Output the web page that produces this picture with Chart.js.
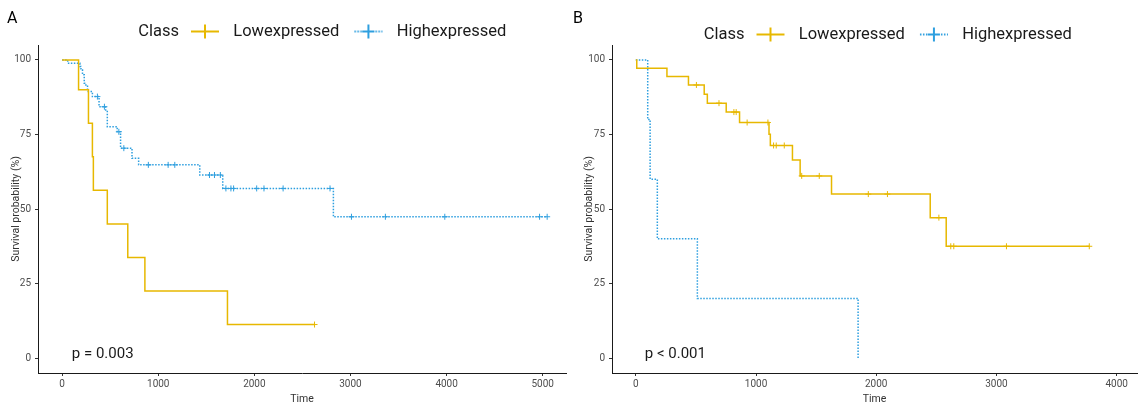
<!DOCTYPE html>
<html>
<head>
<meta charset="utf-8">
<script src="https://cdn.jsdelivr.net/npm/chart.js@4.4.1/dist/chart.umd.min.js"></script>
<style>
  body { margin: 0; background: #fff; width: 1142px; height: 406px; position: relative; overflow: hidden; font-family: Roboto, sans-serif; }
  .panel { position: absolute; top: 0; width: 571px; height: 406px; }
  .tag { position: absolute; top: 9px; font-size: 16px; color: #000; line-height: 18px; }
</style>
</head>
<body>
<div class="panel" style="left:0"><canvas id="chartA" width="571" height="406"></canvas></div>
<div class="panel" style="left:571px"><canvas id="chartB" width="571" height="406"></canvas></div>
<div class="tag" style="left:7px">A</div>
<div class="tag" style="left:573px">B</div>
<script>
const lowColor = "#E7B800";
const highColor = "#2E9FDF";

// panel A
const timeLowA = [0, 171, 274, 315, 325, 470, 683, 861, 1720, 2626];
const survLowA = [100, 90, 78.75, 67.5, 56.25, 45, 33.75, 22.5, 11.25, 11.25];
const censorLowA = [2626];
const timeHighA = [0, 58, 185, 196, 212, 230, 247, 264, 315, 384, 453, 470, 573, 608, 727, 796, 1432, 1671, 2822, 5046];
const survHighA = [100, 98.9, 97.8, 96.6, 95, 92.2, 91.6, 89.4, 87.7, 84.3, 82.7, 77.6, 75.9, 70.4, 67, 64.8, 61.4, 56.9, 47.4, 47.4];
const censorHighA = [367, 440, 590, 642, 897, 1103, 1172, 1533, 1585, 1646, 1704, 1756, 1784, 2024, 2100, 2299, 2787, 3010, 3363, 3981, 4967, 5046];

// panel B
const timeLowB = [0, 8, 259, 438, 569, 595, 752, 863, 1108, 1119, 1303, 1367, 1628, 2449, 2582, 3772];
const survLowB = [100, 97.2, 94.4, 91.6, 88.5, 85.5, 82.5, 79, 75.1, 71.3, 66.4, 61.1, 55, 47.1, 37.5, 37.5];
const censorLowB = [504, 692, 816, 835, 926, 1099, 1146, 1168, 1235, 1380, 1526, 1934, 2093, 2521, 2620, 2645, 3083, 3772];
const timeHighB = [0, 99, 119, 179, 512, 1849];
const survHighB = [100, 80, 60, 40, 20, 0];
const censorHighB = [];

const timeTicksA = [0, 1000, 2000, 3000, 4000, 5000];
const timeTicksB = [0, 1000, 2000, 3000, 4000];
const survTicks = [0, 25, 50, 75, 100];
const seriesNames = ["Lowexpressed", "Highexpressed"];

const legendFont = 16.5;
const legendPad = 13;

function survAt(times, surv, t) {
    let v = surv[0];
    for (let i = 0; i < times.length; i++) if (times[i] <= t) v = surv[i];
    return v;
}

function legendIcon(color, dash) {
    const c = document.createElement("canvas");
    c.width = 36;
    c.height = 18;
    const ctx = c.getContext("2d");
    ctx.strokeStyle = color;
    ctx.lineWidth = 2;
    ctx.setLineDash(dash);
    ctx.beginPath();
    ctx.moveTo(2, 9);
    ctx.lineTo(30, 9);
    ctx.stroke();
    ctx.setLineDash([]);
    ctx.beginPath();
    ctx.moveTo(16, 2);
    ctx.lineTo(16, 16);
    ctx.moveTo(10, 9);
    ctx.lineTo(22, 9);
    ctx.stroke();
    return c;
}
const icons = [legendIcon(lowColor, []), legendIcon(highColor, [1.5, 1.5])];

// moves the legend where ggplot puts it, writes "Class" and the p value
const panelDecor = {
    id: "panelDecor",
    afterLayout(chart, args, opts) {
        const lg = chart.legend;
        const w = lg.width;
        lg.left = opts.legendX - legendPad;
        lg.right = lg.left + w;
        lg.top = opts.legendY - legendPad - legendFont / 2;
        lg.bottom = lg.top + legendFont + 2 * legendPad + 4;
        lg.height = lg.bottom - lg.top;
    },
    afterDraw(chart, args, opts) {
        const ctx = chart.ctx;
        ctx.save();
        ctx.fillStyle = "#1a1a1a";
        ctx.textBaseline = "middle";
        ctx.font = legendFont + "px Roboto";
        ctx.textAlign = "right";
        ctx.fillText("Class", opts.legendX - 10, opts.legendY);
        ctx.font = "15px Roboto";
        ctx.textAlign = "left";
        ctx.fillText(opts.pval, chart.scales.x.getPixelForValue(opts.pvalX), chart.scales.y.getPixelForValue(opts.pvalY));
        ctx.restore();
    }
};

function points(times, surv) {
    return times.map((t, i) => ({ x: t, y: surv[i] }));
}

function censorPoints(censor, times, surv) {
    return censor.map(t => ({ x: t, y: survAt(times, surv, t) }));
}

function createChart(id, p) {
    const ctx = document.getElementById(id).getContext("2d");
    return new Chart(ctx, {
        type: "line",
        data: {
            datasets: [
                {
                    label: seriesNames[0],
                    data: points(p.timeLow, p.survLow),
                    borderColor: lowColor,
                    borderWidth: 1.5,
                    stepped: true,
                    pointRadius: 0,
                    fill: false
                },
                {
                    label: seriesNames[1],
                    data: points(p.timeHigh, p.survHigh),
                    borderColor: highColor,
                    borderWidth: 1.5,
                    borderDash: [1.5, 1.5],
                    stepped: true,
                    pointRadius: 0,
                    fill: false
                },
                {
                    label: "censorLow",
                    data: censorPoints(p.censorLow, p.timeLow, p.survLow),
                    showLine: false,
                    pointStyle: "cross",
                    pointRadius: 3,
                    borderWidth: 1,
                    borderColor: lowColor
                },
                {
                    label: "censorHigh",
                    data: censorPoints(p.censorHigh, p.timeHigh, p.survHigh),
                    showLine: false,
                    pointStyle: "cross",
                    pointRadius: 3,
                    borderWidth: 1,
                    borderColor: highColor
                }
            ]
        },
        options: {
            responsive: false,
            animation: false,
            events: [],
            layout: { padding: { top: 44, left: 0, right: 0, bottom: 0 } },
            plugins: {
                tooltip: { enabled: false },
                legend: {
                    position: "top",
                    align: "start",
                    maxHeight: 1,
                    onClick: null,
                    labels: {
                        usePointStyle: true,
                        pointStyleWidth: 36,
                        padding: legendPad,
                        color: "#1a1a1a",
                        font: { size: legendFont, family: "Roboto" },
                        generateLabels: () => seriesNames.map((name, i) => ({
                            text: name,
                            pointStyle: icons[i],
                            fillStyle: "transparent",
                            strokeStyle: "transparent",
                            lineWidth: 0,
                            hidden: false,
                            datasetIndex: i,
                            fontColor: "#1a1a1a"
                        }))
                    }
                },
                panelDecor: p.decor
            },
            scales: {
                x: {
                    type: "linear",
                    min: p.xMin,
                    max: p.xMax,
                    afterBuildTicks: s => { s.ticks = p.xTicks.map(v => ({ value: v })); },
                    afterFit: s => { s.height = 33; },
                    grid: { drawOnChartArea: false, tickLength: 3, color: "#333" },
                    border: { color: "#1a1a1a", width: 1 },
                    ticks: { color: "#4d4d4d", font: { size: 10, family: "Roboto" }, padding: 2, maxRotation: 0, callback: v => String(v) },
                    title: { display: true, text: "Time", color: "#333", font: { size: 10.5, family: "Roboto" }, padding: { top: 0, bottom: 0 } }
                },
                y: {
                    type: "linear",
                    min: -5,
                    max: 105,
                    afterBuildTicks: s => { s.ticks = survTicks.map(v => ({ value: v })); },
                    afterFit: s => { s.width = p.yAxisWidth; },
                    grid: { drawOnChartArea: false, tickLength: 3, color: "#333" },
                    border: { color: "#1a1a1a", width: 1 },
                    ticks: { color: "#4d4d4d", font: { size: 10, family: "Roboto" }, padding: 4, callback: v => String(v) },
                    title: { display: true, text: "Survival probability (%)", color: "#333", font: { size: 10.5, family: "Roboto" }, padding: { top: p.yTitlePad, bottom: 0 } }
                }
            }
        },
        plugins: [panelDecor]
    });
}

createChart("chartA", {
    timeLow: timeLowA, survLow: survLowA, censorLow: censorLowA,
    timeHigh: timeHighA, survHigh: survHighA, censorHigh: censorHighA,
    xMin: -251, xMax: 5242, xTicks: timeTicksA,
    yAxisWidth: 38, yTitlePad: 10,
    decor: { legendX: 189, legendY: 31.5, pval: "p = 0.003", pvalX: 101, pvalY: 1.4 }
});

createChart("chartB", {
    timeLow: timeLowB, survLow: survLowB, censorLow: censorLowB,
    timeHigh: timeHighB, survHigh: survHighB, censorHigh: censorHighB,
    xMin: -198, xMax: 4169, xTicks: timeTicksB,
    yAxisWidth: 41, yTitlePad: 12,
    decor: { legendX: 183.5, legendY: 34.5, pval: "p < 0.001", pvalX: 75, pvalY: 1.4 }
});
</script>
</body>
</html>
